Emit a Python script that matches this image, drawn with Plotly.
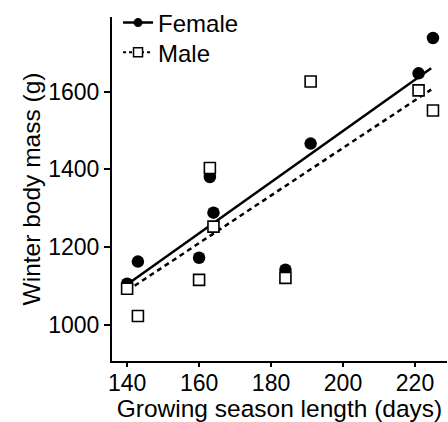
import plotly.graph_objects as go

# Data
female_x = [140, 143, 160, 163, 164, 184, 191, 221, 225]
female_y = [1105, 1162, 1172, 1380, 1288, 1141, 1466, 1647, 1738]
male_x = [140, 143, 160, 163, 164, 184, 191, 221, 225]
male_y = [1092, 1022, 1115, 1403, 1252, 1120, 1626, 1603, 1551]

fit_x = [140, 224.5]
female_fit = [1103, 1660]
male_fit = [1087, 1605]

x_ticks = [140, 160, 180, 200, 220]
y_ticks = [1000, 1200, 1400, 1600]

FONT = "Liberation Sans, Arial, sans-serif"

fig = go.Figure()

fig.add_trace(go.Scatter(x=fit_x, y=female_fit, mode="lines",
                         line=dict(color="black", width=2.5),
                         showlegend=False, hoverinfo="skip"))
fig.add_trace(go.Scatter(x=fit_x, y=male_fit, mode="lines",
                         line=dict(color="black", width=2.5, dash="5px,4px"),
                         showlegend=False, hoverinfo="skip"))
fig.add_trace(go.Scatter(x=female_x, y=female_y, mode="markers",
                         marker=dict(symbol="circle", size=12.5, color="black"),
                         showlegend=False))
fig.add_trace(go.Scatter(x=male_x, y=male_y, mode="markers",
                         marker=dict(symbol="square", size=11, color="white",
                                     line=dict(color="black", width=1.6)),
                         showlegend=False))

# legend entries
fig.add_trace(go.Scatter(x=[None], y=[None], mode="lines+markers", name="Female",
                         line=dict(color="black", width=2.5),
                         marker=dict(symbol="circle", size=9, color="black"),
                         legend="legend"))
fig.add_trace(go.Scatter(x=[None], y=[None], mode="lines+markers", name="Male",
                         line=dict(color="black", width=2, dash="3px,3px"),
                         marker=dict(symbol="square", size=9, color="white",
                                     line=dict(color="black", width=1.5)),
                         legend="legend2"))

leg_common = dict(xanchor="left", yanchor="top", font=dict(size=24, family=FONT),
                  bgcolor="rgba(0,0,0,0)", itemwidth=30)

fig.update_layout(
    width=448, height=422,
    margin=dict(l=112, r=1, t=14, b=61),
    plot_bgcolor="white", paper_bgcolor="white",
    font=dict(family=FONT, color="black"),
    showlegend=True,
    legend=dict(x=0.018, y=1.048, **leg_common),
    legend2=dict(x=0.018, y=0.962, **leg_common),
)
fig.update_xaxes(range=[135.8, 228.9], tickvals=x_ticks, showgrid=False, zeroline=False,
                 showline=True, linecolor="black", linewidth=2.2,
                 ticks="outside", ticklen=4, tickwidth=1.5, tickcolor="black",
                 ticklabelstandoff=-4,
                 tickfont=dict(size=23), title=dict(text="Growing season length (days)",
                                                    font=dict(size=24.5), standoff=0))
fig.update_yaxes(range=[906, 1792], tickvals=y_ticks, showgrid=False, zeroline=False,
                 showline=True, linecolor="black", linewidth=2.2,
                 ticks="outside", ticklen=6, tickwidth=1.5, tickcolor="black",
                 tickfont=dict(size=23), title=dict(text="Winter body mass (g)",
                                                    font=dict(size=24.5), standoff=1))

fig.write_html("out.html")
